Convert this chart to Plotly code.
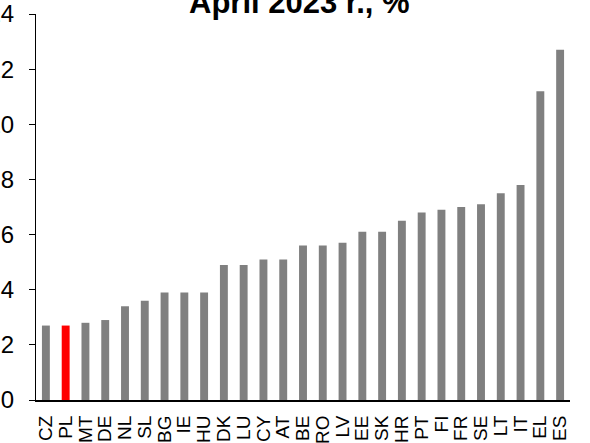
import plotly.graph_objects as go

# Country codes, ordered from lowest to highest rate
countries = ["CZ", "PL", "MT", "DE", "NL", "SL", "BG", "IE", "HU", "DK", "LU", "CY", "AT",
             "BE", "RO", "LV", "EE", "SK", "HR", "PT", "FI", "FR", "SE", "LT", "IT", "EL", "ES"]
rates = [2.7, 2.7, 2.8, 2.9, 3.4, 3.6, 3.9, 3.9, 3.9, 4.9, 4.9, 5.1, 5.1,
         5.6, 5.6, 5.7, 6.1, 6.1, 6.5, 6.8, 6.9, 7.0, 7.1, 7.5, 7.8, 11.2, 12.7]
y_ticks = [0, 2, 4, 6, 8, 10, 12, 14]
highlight = "PL"
title_text = "April 2023 r., %"

colors = ["#FF0000" if c == highlight else "#808080" for c in countries]

fig = go.Figure(go.Bar(
    x=countries,
    y=rates,
    marker=dict(color=colors, line=dict(width=0)),
))

FONT = "Liberation Sans, Arial, sans-serif"

fig.update_layout(
    width=590,
    height=443,
    margin=dict(l=35.5, r=20, t=14, b=43, autoexpand=False),
    paper_bgcolor="white",
    plot_bgcolor="white",
    bargap=0.6,
    showlegend=False,
    font=dict(family=FONT, color="black"),
    annotations=[dict(
        text="<b>" + title_text + "</b>",
        xref="paper", yref="paper",
        x=0.4935, y=1,
        xanchor="center", yanchor="bottom",
        yshift=-8,
        showarrow=False,
        font=dict(family=FONT, size=31, color="black"),
    )],
)

fig.update_xaxes(
    type="category",
    tickmode="array",
    tickvals=countries,
    ticktext=countries,
    showline=True, linecolor="black", linewidth=2,
    ticks="", showgrid=False,
    tickangle=-90,
    tickfont=dict(family=FONT, size=19, color="black"),
    ticklabelstandoff=6,
    automargin=False,
)

fig.update_yaxes(
    range=[0, 14],
    tickvals=y_ticks,
    ticktext=[str(v) for v in y_ticks],
    showline=True, linecolor="black", linewidth=1,
    ticks="outside", ticklen=6, tickcolor="black", tickwidth=1,
    showgrid=False, zeroline=False,
    tickfont=dict(family=FONT, size=24, color="black"),
    ticklabelstandoff=10,
    automargin=False,
)

fig.write_html("out.html")
